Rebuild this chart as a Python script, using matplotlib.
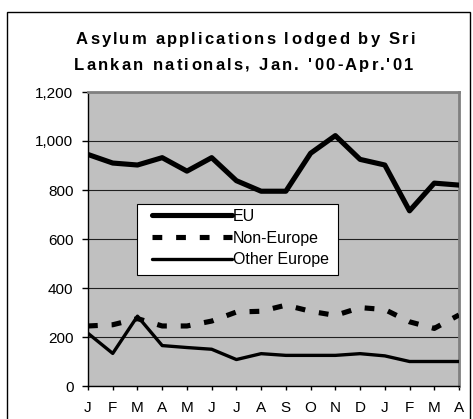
import matplotlib
matplotlib.use("Agg")
import matplotlib.pyplot as plt
from matplotlib.patches import Rectangle
from matplotlib.ticker import FuncFormatter
from matplotlib.font_manager import FontProperties

months = ["J", "F", "M", "A", "M", "J", "J", "A", "S", "O", "N", "D", "J", "F", "M", "A"]
eu = [945, 910, 902, 932, 877, 932, 838, 795, 795, 950, 1022, 925, 902, 715, 828, 820]
non_europe = [245, 250, 275, 245, 245, 265, 302, 305, 330, 305, 288, 320, 312, 262, 235, 290]
other_europe = [215, 133, 285, 165, 157, 150, 108, 132, 125, 125, 125, 132, 123, 100, 100, 100]
title_lines = ["Asylum applications lodged by Sri", "Lankan nationals, Jan. '00-Apr.'01"]

FAM = ['Liberation Sans', 'DejaVu Sans']
plt.rcParams['font.family'] = FAM

W, H = 473, 419
fig = plt.figure(figsize=(W / 100, H / 100), dpi=100)

# outer chart border
fig.patches.append(Rectangle((7 / W, -0.05), (470 - 7) / W, (H - 12) / H + 0.05,
                             transform=fig.transFigure, fill=False,
                             edgecolor='black', linewidth=1.0))

ax = fig.add_axes([88 / W, (H - 386) / H, (459 - 88) / W, (386 - 92) / H])
ax.set_facecolor('#C0C0C0')

x = list(range(len(months)))
l_eu, = ax.plot(x, eu, color='black', linewidth=3.7, solid_capstyle='round', label='EU', zorder=3)
l_ne, = ax.plot(x, non_europe, color='black', linewidth=3.7, linestyle=(0, (1.9, 2.7)),
                dash_capstyle='butt', label='Non-Europe', zorder=3)
l_oe, = ax.plot(x, other_europe, color='black', linewidth=2.4, solid_capstyle='round',
                label='Other Europe', zorder=3)

ax.set_xlim(0, len(months) - 1)
ax.set_ylim(0, 1200)
ax.set_yticks(range(0, 1201, 200))
ax.yaxis.set_major_formatter(FuncFormatter(lambda v, p: f"{int(v):,}"))
ax.set_xticks(x)
ax.set_xticklabels(months)
ax.grid(axis='y', color='#202020', linewidth=0.8)
ax.set_axisbelow(True)

for s in ['top', 'right']:
    ax.spines[s].set_color('#808080')
    ax.spines[s].set_linewidth(2.0)
for s in ['left', 'bottom']:
    ax.spines[s].set_color('black')
    ax.spines[s].set_linewidth(1.0)

ax.tick_params(axis='both', direction='out', length=4, width=1, color='black',
               labelsize=11, labelcolor='black')
ax.tick_params(axis='x', pad=7.5, length=3)
ax.tick_params(axis='y', pad=6.5)

# legend box drawn separately, entries placed inside it
ax_w, ax_h = 459 - 88, 386 - 92
box = Rectangle(((137 - 88) / ax_w, (386 - 275) / ax_h), (338 - 137) / ax_w, (275 - 204) / ax_h,
                transform=ax.transAxes, facecolor='white', edgecolor='black',
                linewidth=0.8, zorder=5)
ax.add_patch(box)
leg = ax.legend(handles=[l_eu, l_ne, l_oe], loc='center left',
                bbox_to_anchor=((152 - 88) / ax_w, (386 - 238) / ax_h),
                frameon=False, fontsize=11.5, handlelength=5.0, handletextpad=0.05,
                labelspacing=0.43, borderpad=0, borderaxespad=0)
leg.set_zorder(6)

# title with extra letter spacing
renderer = fig.canvas.get_renderer()
prop = FontProperties(family=FAM, weight='bold', size=12)


def text_w(t):
    w, _, _ = renderer.get_text_width_height_descent(t, prop, ismath=False)
    return w


def adv(t):
    return text_w(t + 'x') - text_w('x')


def spaced_line(s, left, right, baseline):
    natural = adv(s[:-1]) + text_w(s[-1])
    sp = (right - left - natural) / (len(s) - 1)
    for i, ch in enumerate(s):
        if ch == ' ':
            continue
        px = left + (adv(s[:i]) if i else 0) + i * sp
        fig.text(px / W, 1 - baseline / H, ch, ha='left', va='baseline',
                 fontproperties=prop)


spaced_line(title_lines[0], 76, 415, 44)
spaced_line(title_lines[1], 74, 413, 69.5)

fig.savefig('out.png', dpi=100)
